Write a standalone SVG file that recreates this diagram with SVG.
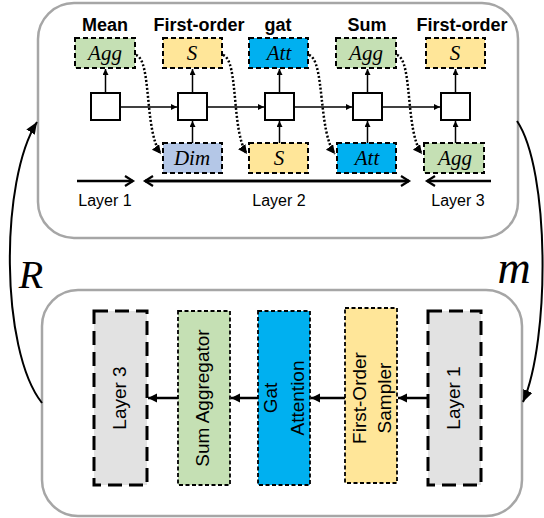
<svg xmlns="http://www.w3.org/2000/svg" width="544" height="518" viewBox="0 0 544 518">
<style>
.panel{fill:#fff;stroke:#a6a6a6;stroke-width:2.5}
.sq{fill:#fff;stroke:#000;stroke-width:2}
.op{stroke:#000;stroke-width:2;stroke-dasharray:5,3}
.g{fill:#c5e0b4}.y{fill:#ffe699}.b{fill:#00b0f0}.l{fill:#b4c7e7}.gr{fill:#e2e2e2}
.math{font-family:"Liberation Serif",serif;font-style:italic;font-size:21px;text-anchor:middle}
.title{font-family:"Liberation Sans",sans-serif;font-weight:bold;font-size:18px;text-anchor:middle}
.lab{font-family:"Liberation Sans",sans-serif;font-size:16px;text-anchor:middle}
.vt{font-family:"Liberation Sans",sans-serif;font-size:19px;text-anchor:middle}
.big{font-family:"Liberation Serif",serif;font-style:italic;text-anchor:middle}
.ln{fill:none;stroke:#000;stroke-width:1.5}
.dot{fill:none;stroke:#000;stroke-width:2.5;stroke-dasharray:2,2}
.thick{fill:none;stroke:#000;stroke-width:2.5}
.ld{stroke:#000;stroke-width:3;stroke-dasharray:14,7}
.sd{stroke:#000;stroke-width:1.8;stroke-dasharray:4,2.5}
</style>
<defs>
<marker id="sm" markerUnits="userSpaceOnUse" markerWidth="8" markerHeight="8" refX="6" refY="3" orient="auto"><path d="M0,0 L6,3 L0,6 Z" fill="#000"/></marker>
<marker id="md" markerUnits="userSpaceOnUse" markerWidth="12" markerHeight="12" refX="9" refY="4.5" orient="auto"><path d="M0,0 L9,4.5 L0,9 Z" fill="#000"/></marker>
<marker id="big" markerUnits="userSpaceOnUse" markerWidth="14" markerHeight="14" refX="12" refY="5" orient="auto"><path d="M0,0 L12,5 L0,10 Z" fill="#000"/></marker>
<marker id="open" markerUnits="userSpaceOnUse" markerWidth="14" markerHeight="14" refX="9" refY="6" orient="auto"><path d="M1,1 L9,6 L1,11" fill="none" stroke="#000" stroke-width="2.2"/></marker>
</defs>

<g id="top-panel"><rect class="panel" x="38" y="3" width="480" height="235" rx="36"/></g>
<g id="bottom-panel"><rect class="panel" x="42" y="290" width="480" height="226" rx="36"/></g>

<g id="titles">
<text class="title" x="105" y="31">Mean</text>
<text class="title" x="199" y="31">First-order</text>
<text class="title" x="278" y="31">gat</text>
<text class="title" x="367" y="31">Sum</text>
<text class="title" x="462" y="31">First-order</text>
</g>

<g id="sq1"><rect class="sq" x="91" y="93" width="29" height="27"/></g>
<g id="sq2"><rect class="sq" x="178" y="93" width="29" height="27"/></g>
<g id="sq3"><rect class="sq" x="265" y="93" width="29" height="27"/></g>
<g id="sq4"><rect class="sq" x="353" y="93" width="29" height="27"/></g>
<g id="sq5"><rect class="sq" x="441" y="93" width="29" height="27"/></g>

<g id="t-agg1"><rect class="op g" x="75" y="38" width="60" height="30"/><text class="math" x="105" y="60">Agg</text></g>
<g id="t-s2"><rect class="op y" x="163" y="38" width="59" height="30"/><text class="math" x="192" y="60">S</text></g>
<g id="t-att3"><rect class="op b" x="249" y="38" width="59" height="30"/><text class="math" x="279" y="60">Att</text></g>
<g id="t-agg4"><rect class="op g" x="336" y="38" width="60" height="30"/><text class="math" x="366" y="60">Agg</text></g>
<g id="t-s5"><rect class="op y" x="426" y="38" width="59" height="30"/><text class="math" x="455" y="60">S</text></g>

<g id="b-dim"><rect class="op l" x="163" y="143" width="59" height="30"/><text class="math" x="192" y="165">Dim</text></g>
<g id="b-s"><rect class="op y" x="249" y="143" width="59" height="30"/><text class="math" x="279" y="165">S</text></g>
<g id="b-att"><rect class="op b" x="337" y="143" width="59" height="30"/><text class="math" x="367" y="165">Att</text></g>
<g id="b-agg"><rect class="op g" x="424" y="143" width="60" height="30"/><text class="math" x="455" y="165">Agg</text></g>

<g id="layer-labels">
<text class="lab" x="105" y="206">Layer 1</text>
<text class="lab" x="279" y="206">Layer 2</text>
<text class="lab" x="458" y="206">Layer 3</text>
</g>

<g id="b-layer3"><rect class="ld gr" x="94" y="311" width="53" height="174"/><text class="vt" transform="translate(126,398) rotate(-90)">Layer 3</text></g>
<g id="b-sum"><rect class="sd g" x="178" y="311" width="52" height="174"/><text class="vt" transform="translate(209,398) rotate(-90)">Sum Aggregator</text></g>
<g id="b-gat"><rect class="sd b" x="258" y="311" width="52" height="174"/><text class="vt" transform="translate(277,398) rotate(-90)">Gat</text><text class="vt" transform="translate(304,398) rotate(-90)">Attention</text></g>
<g id="b-fos"><rect class="sd y" x="345" y="308" width="52" height="175"/><text class="vt" transform="translate(366,398) rotate(-90)">First-Order</text><text class="vt" transform="translate(391,398) rotate(-90)">Sampler</text></g>
<g id="b-layer1"><rect class="ld gr" x="428" y="311" width="53" height="174"/><text class="vt" transform="translate(460,398) rotate(-90)">Layer 1</text></g>

<g id="connectors">
<path class="ln" d="M120,107 H177" marker-end="url(#sm)"/>
<path class="ln" d="M207,107 H264" marker-end="url(#sm)"/>
<path class="ln" d="M294,107 H352" marker-end="url(#sm)"/>
<path class="ln" d="M382,107 H440" marker-end="url(#sm)"/>
<path class="ln" d="M105.5,93 V69" marker-end="url(#sm)"/>
<path class="ln" d="M192.5,93 V69" marker-end="url(#sm)"/>
<path class="ln" d="M279.5,93 V69" marker-end="url(#sm)"/>
<path class="ln" d="M367.5,93 V69" marker-end="url(#sm)"/>
<path class="ln" d="M455.5,93 V69" marker-end="url(#sm)"/>
<path class="ln" d="M192.5,143 V121" marker-end="url(#sm)"/>
<path class="ln" d="M279.5,143 V121" marker-end="url(#sm)"/>
<path class="ln" d="M367.5,143 V121" marker-end="url(#sm)"/>
<path class="ln" d="M455.5,143 V121" marker-end="url(#sm)"/>
<path class="dot" d="M136,55 C152,60 144,132 161,154" marker-end="url(#md)"/>
<path class="dot" d="M223,55 C239,60 231,132 247,154" marker-end="url(#md)"/>
<path class="dot" d="M309,55 C325,60 318,132 335,154" marker-end="url(#md)"/>
<path class="dot" d="M397,55 C413,60 405,132 422,154" marker-end="url(#md)"/>
<path class="thick" d="M77,181 H133" marker-end="url(#open)"/>
<path class="thick" d="M409,181 H145" marker-end="url(#open)"/>
<path class="thick" d="M145,181 H409" marker-end="url(#open)"/>
<path class="thick" d="M491,181 H427" marker-end="url(#open)"/>
<path class="thick" d="M428,398 H398" marker-end="url(#md)"/>
<path class="thick" d="M345,398 H311" marker-end="url(#md)"/>
<path class="thick" d="M258,398 H231" marker-end="url(#md)"/>
<path class="thick" d="M178,398 H148" marker-end="url(#md)"/>
<path class="ln" style="stroke-width:2" d="M42,403 C0,350 0,180 37,122" marker-end="url(#big)"/>
<path class="ln" style="stroke-width:2" d="M517,121 C550,170 550,340 523,402" marker-end="url(#big)"/>
</g>
<g id="loop-labels">
<text class="big" x="31" y="288" font-size="40">R</text>
<text class="big" x="514" y="283" font-size="46">m</text>
</g>
</svg>
